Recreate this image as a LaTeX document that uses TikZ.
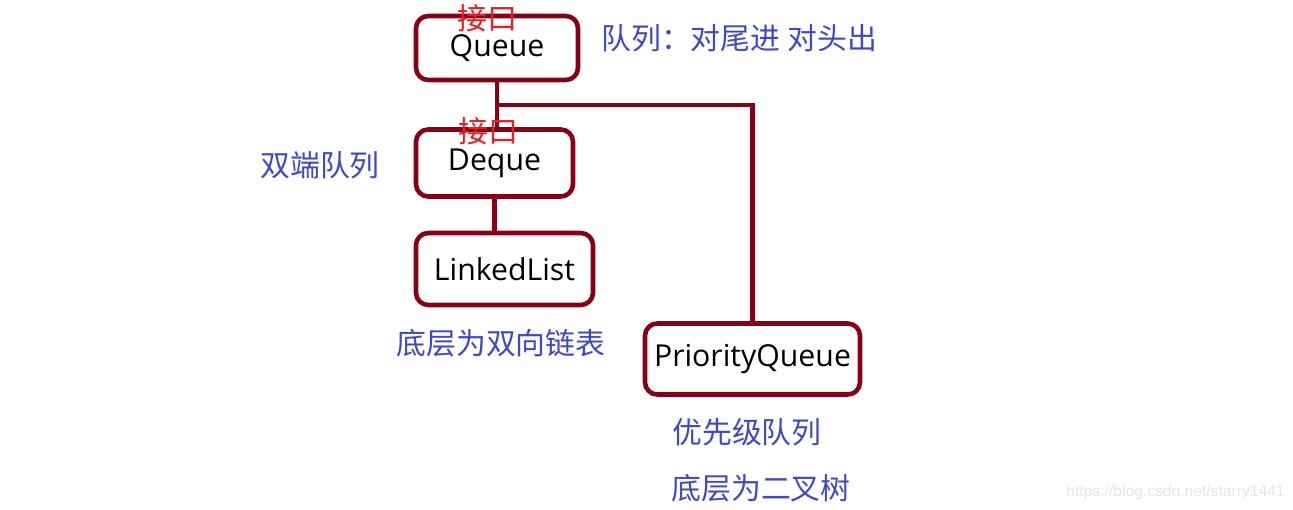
\documentclass[tikz,border=0pt]{standalone}
\usepackage{fontspec}
\setmainfont{Open Sans}
\newfontfamily\cjk{Noto Sans CJK SC}
\newfontfamily\wmfont{Liberation Sans}
\usepackage{tikz}
\usepackage{xcolor}
\definecolor{paintdarkred}{RGB}{136,0,21}
\definecolor{paintred}{RGB}{237,28,36}
\definecolor{paintindigo}{RGB}{63,72,204}

\begin{document}
\begin{tikzpicture}[
    classbox/.style={rectangle, draw=paintdarkred, line width=2.6pt, fill=white,
        rounded corners=7pt, inner sep=0pt, font=\fontsize{17.2}{19}\selectfont},
    link/.style={draw=paintdarkred, line width=2.6pt},
    ifacelabel/.style={inner sep=0pt, text=paintred, font=\cjk\fontsize{17}{19}\selectfont},
    note/.style={inner sep=0pt, text=paintindigo, font=\cjk\fontsize{17}{19}\selectfont}
]
    \useasboundingbox (0,0) rectangle (25.86,-10.2);

    % Boxes
    \node[classbox, minimum width=3.24cm, minimum height=1.28cm] (queue) at (9.94,-0.96) {Queue};
    \node[classbox, minimum width=3.14cm, minimum height=1.34cm] (deque) at (9.89,-3.26) {Deque};
    \node[classbox, minimum width=3.54cm, minimum height=1.44cm] (linkedlist) at (10.09,-5.38) {LinkedList};
    \node[classbox, minimum width=4.30cm, minimum height=1.42cm] (pqueue) at (15.05,-7.18) {PriorityQueue};

    % Connectors
    \coordinate (fork) at (9.92,-2.10);
    \draw[link] (queue.south) -- (queue.south |- deque.north);
    \draw[link] (fork) -| (pqueue.north);
    \draw[link] (deque.south) -- (deque.south |- linkedlist.north);

    % Interface tags
    \node[ifacelabel] (ifaceq) at (9.74,-0.36) {接口};
    \node[ifacelabel] (ifaced) at (9.76,-2.62) {接口};

    % Notes
    \node[note, anchor=west] (queuenote) at (12.02,-0.76) {队列：对尾进 对头出};
    \node[note] (dequenote) at (6.40,-3.30) {双端队列};
    \node[note] (listnote) at (10.02,-6.86) {底层为双向链表};
    \node[note] (pqnote1) at (14.94,-8.64) {优先级队列};
    \node[note] (pqnote2) at (15.22,-9.76) {底层为二叉树};

    % Watermark
    \node[anchor=east, inner sep=0pt, text=black!10, font=\wmfont\fontsize{8.9}{10}\selectfont]
        (watermark) at (25.70,-9.84) {https://blog.csdn.net/starry1441};
\end{tikzpicture}
\end{document}
